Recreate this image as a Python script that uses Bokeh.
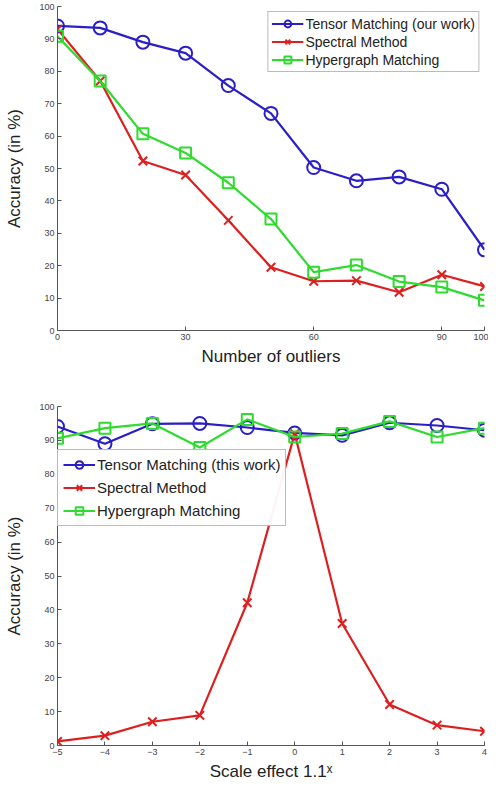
from bokeh.plotting import figure
from bokeh.layouts import column
from bokeh.models import FixedTicker, Legend, LegendItem, Range1d
from bokeh.embed import file_html
from bokeh.resources import INLINE

# ---- data: top chart (outliers) ----
outliers = [0, 10, 20, 30, 40, 50, 60, 70, 80, 90, 100]
tensor_out = [94, 93.4, 89, 85.6, 75.6, 67, 50.3, 46.2, 47.4, 43.6, 24.9]
spectral_out = [93, 77, 52.3, 48, 34, 19.5, 15.2, 15.4, 11.8, 17.2, 13.6]
hyper_out = [90.8, 77, 60.7, 54.8, 45.6, 34.4, 18, 20.2, 15.1, 13.4, 9.3]
top_xticks = [0, 30, 60, 90, 100]

# ---- data: bottom chart (scale) ----
scale_exp = [-5, -4, -3, -2, -1, 0, 1, 2, 3, 4]
tensor_sc = [94.1, 89, 94.9, 95, 93.8, 92.2, 91.5, 95.2, 94.4, 93]
spectral_sc = [1.2, 2.9, 7, 8.9, 42.1, 92, 36, 12.1, 6, 4.2]
hyper_sc = [90.6, 93.6, 95, 87.9, 96.2, 91, 92, 95.6, 91, 93.6]

y_ticks = list(range(0, 101, 10))

BLUE = "#2a1ec8"
RED = "#dd1f1f"
GREEN = "#2edb2e"
FONT = "Liberation Sans"


def style(p, xticks, xlabel):
    p.xaxis.ticker = FixedTicker(ticks=xticks)
    p.yaxis.ticker = FixedTicker(ticks=y_ticks)
    p.xgrid.visible = False
    p.ygrid.visible = False
    p.outline_line_color = None
    for ax in (p.xaxis, p.yaxis):
        ax.major_tick_in = 4
        ax.major_tick_out = 0
        ax.minor_tick_line_color = None
        ax.axis_line_color = "#555555"
        ax.major_tick_line_color = "#555555"
        ax.major_label_text_font = FONT
        ax.major_label_text_font_size = "9px"
        ax.major_label_text_color = "#444444"
        ax.axis_label_text_font = FONT
        ax.axis_label_text_font_size = "17px"
        ax.axis_label_text_font_style = "normal"
        ax.axis_label_text_color = "#222222"
    p.xaxis.axis_label = xlabel
    p.yaxis.axis_label = "Accuracy (in %)"
    p.xaxis.major_label_standoff = 3
    p.yaxis.major_label_standoff = 3
    p.xaxis.axis_label_standoff = 4
    p.yaxis.axis_label_standoff = 12


def series(p, x, y, color, marker, size):
    l = p.line(x, y, line_color=color, line_width=2.2)
    s = p.scatter(x, y, marker=marker, size=size, line_color=color,
                  fill_color=None, line_width=2)
    return [l, s]


# ---- top figure ----
p1 = figure(width=488, height=392, output_backend="svg", toolbar_location=None,
            x_range=Range1d(0, 100), y_range=Range1d(0, 100),
            min_border_left=57, min_border_right=4, min_border_top=6,
            min_border_bottom=62)
style(p1, top_xticks, "Number of outliers")
r1 = series(p1, outliers, tensor_out, BLUE, "circle", 13)
r2 = series(p1, outliers, spectral_out, RED, "x", 12)
r3 = series(p1, outliers, hyper_out, GREEN, "square", 11)
leg1 = Legend(items=[
    LegendItem(label="Tensor Matching (our work)", renderers=r1),
    LegendItem(label="Spectral Method", renderers=r2),
    LegendItem(label="Hypergraph Matching", renderers=r3),
], location="top_right")
leg1.margin = 5
leg1.padding = 3
leg1.spacing = 1
leg1.glyph_width = 32
leg1.glyph_height = 17
leg1.label_height = 17
leg1.label_standoff = 2
leg1.label_text_font = FONT
leg1.label_text_font_size = "14px"
leg1.label_text_color = "#222222"
leg1.border_line_color = "#777777"
leg1.border_line_width = 1
p1.add_layout(leg1, "center")

# ---- bottom figure ----
p2 = figure(width=488, height=393, output_backend="svg", toolbar_location=None,
            x_range=Range1d(-5, 4), y_range=Range1d(0, 100),
            min_border_left=57, min_border_right=4, min_border_top=14,
            min_border_bottom=40)
style(p2, scale_exp, "Scale effect 1.1ˣ")
q1 = series(p2, scale_exp, tensor_sc, BLUE, "circle", 13)
q2 = series(p2, scale_exp, spectral_sc, RED, "x", 12)
q3 = series(p2, scale_exp, hyper_sc, GREEN, "square", 11)
leg2 = Legend(items=[
    LegendItem(label="Tensor Matching (this work)", renderers=q1),
    LegendItem(label="Spectral Method", renderers=q2),
    LegendItem(label="Hypergraph Matching", renderers=q3),
], location=(0, 219))
leg2.margin = 0
leg2.padding = 5
leg2.spacing = 4
leg2.glyph_width = 32
leg2.glyph_height = 19
leg2.label_height = 19
leg2.label_standoff = 2
leg2.label_text_font = FONT
leg2.label_text_font_size = "15px"
leg2.label_text_color = "#222222"
leg2.border_line_color = "#777777"
leg2.border_line_width = 1
p2.add_layout(leg2, "center")

layout = column(p1, p2, spacing=0)
open("out.html", "w").write(file_html(layout, INLINE))
